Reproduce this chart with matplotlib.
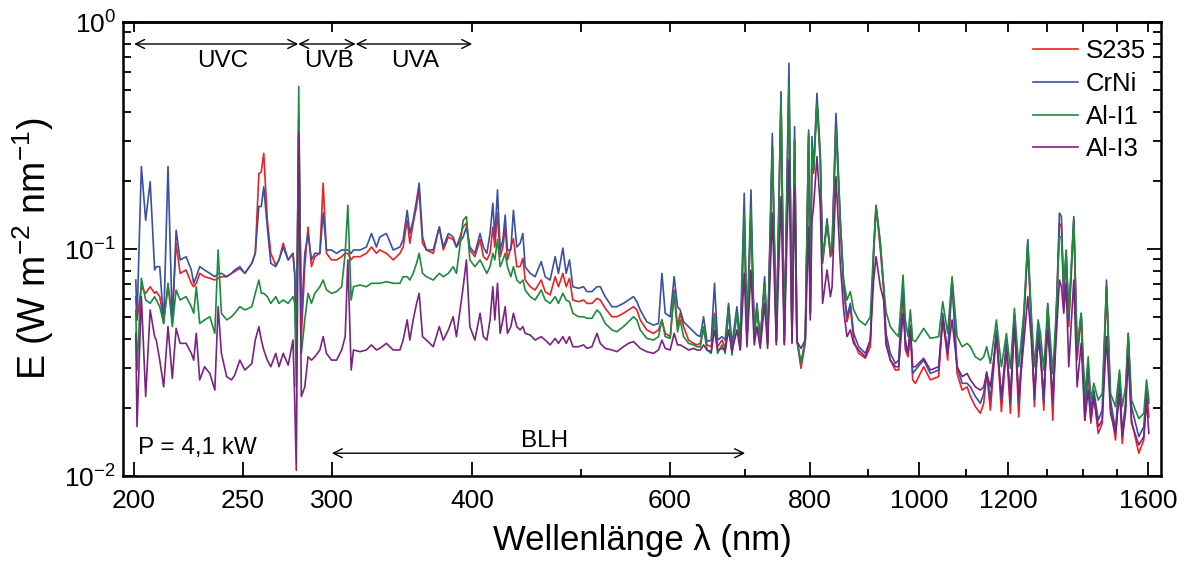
"""
Spectral irradiance of the arc for four workpiece materials (P = 4,1 kW).
"""
import matplotlib
matplotlib.use("Agg")
import matplotlib.pyplot as plt
from matplotlib.ticker import NullFormatter

plt.rcParams["font.family"] = ["Liberation Sans", "DejaVu Sans"]
plt.rcParams["mathtext.fontset"] = "custom"
plt.rcParams["mathtext.rm"] = "Liberation Sans"
plt.rcParams["mathtext.it"] = "Liberation Sans:italic"
plt.rcParams["mathtext.bf"] = "Liberation Sans:bold"

# wavelength grid (nm) shared by all four spectra
wavelength = [
    200.7, 201.2, 203.0, 204.8, 206.7, 208.6, 209.3, 210.8, 212.5, 214.4,
    216.3, 218.0, 219.8, 222.5, 224.9, 226.0, 227.2, 228.8, 231.1, 233.6,
    236.0, 237.6, 239.2, 241.8, 244.2, 245.8, 248.4, 251.0, 254.6, 256.4,
    258.3, 259.6, 260.9, 262.8, 264.7, 267.4, 269.2, 271.5, 274.3, 277.0,
    278.0, 278.9, 280.3, 281.8, 283.8, 285.7, 287.7, 289.7, 292.7, 294.7,
    296.7, 299.8, 302.9, 306.1, 308.3, 310.0, 312.1, 313.6, 317.9, 322.0,
    325.4, 328.7, 331.0, 335.5, 340.2, 344.9, 347.2, 350.1, 352.0, 354.4,
    356.9, 358.8, 361.3, 364.2, 369.3, 373.9, 377.0, 380.9, 384.7, 387.3,
    392.7, 395.3, 398.1, 402.2, 406.5, 409.3, 412.2, 414.9, 417.3, 419.0,
    421.3, 423.6, 426.0, 428.0, 430.0, 433.0, 435.3, 438.3, 441.3, 443.8,
    445.9, 450.5, 455.1, 460.8, 464.6, 469.3, 474.2, 477.4, 481.7, 485.0,
    488.3, 491.7, 497.4, 502.6, 506.1, 511.3, 516.6, 520.1, 525.4, 532.7,
    538.1, 545.4, 551.1, 556.8, 560.7, 564.5, 572.2, 580.1, 586.1, 590.2,
    594.2, 600.3, 605.2, 609.4, 612.7, 617.0, 623.3, 629.8, 634.1, 638.5,
    642.8, 647.3, 653.0, 657.4, 661.5, 667.5, 672.0, 676.6, 681.3, 688.3,
    693.0, 698.7, 702.6, 708.4, 713.2, 717.1, 722.0, 728.5, 733.0, 740.1,
    746.2, 753.4, 758.5, 765.8, 770.6, 774.7, 778.4, 784.9, 791.8, 797.3,
    800.0, 802.8, 805.5, 811.0, 816.6, 820.5, 828.0, 833.7, 836.6, 843.3,
    850.8, 856.6, 862.5, 868.5, 874.4, 883.5, 895.6, 904.8, 911.0, 915.5,
    923.6, 929.9, 934.4, 942.7, 952.5, 958.9, 967.6, 972.2, 977.6, 982.2,
    986.9, 992.4, 1009.4, 1023.3, 1040.9, 1049.6, 1060.3, 1069.9, 1081.0, 1092.2,
    1103.4, 1110.9, 1122.3, 1133.9, 1141.6, 1148.6, 1157.4, 1171.7, 1183.8, 1196.0,
    1205.8, 1215.8, 1226.6, 1239.3, 1249.6, 1258.1, 1266.7, 1276.4, 1282.5, 1291.2,
    1301.8, 1315.3, 1324.3, 1333.3, 1338.8, 1345.2, 1351.8, 1359.1, 1373.2, 1382.6,
    1394.2, 1404.6, 1414.3, 1422.0, 1430.7, 1443.7, 1455.6, 1468.4, 1480.5, 1495.8,
    1508.2, 1516.5, 1526.8, 1535.2, 1545.7, 1568.9, 1585.1, 1594.0, 1601.6,
]

# irradiance E in W m^-2 nm^-1
s235 = [
    0.0617, 0.0487, 0.0682, 0.0638, 0.0682, 0.0638, 0.0649, 0.0617, 0.0487, 0.0682,
    0.0521, 0.106, 0.0781, 0.0808, 0.0706, 0.0682, 0.0706, 0.0781, 0.0755, 0.0743,
    0.0730, 0.0743, 0.0755, 0.0755, 0.0781, 0.0795, 0.0822, 0.0781, 0.0865, 0.0957,
    0.215, 0.219, 0.264, 0.134, 0.0957, 0.0850, 0.0895, 0.106, 0.0895, 0.0957,
    0.0781, 0.0347, 0.383, 0.0411, 0.0836, 0.125, 0.0836, 0.0925, 0.0957, 0.195,
    0.0957, 0.0895, 0.0895, 0.0925, 0.0957, 0.0957, 0.0895, 0.0925, 0.0925, 0.0957,
    0.102, 0.0957, 0.0990, 0.0957, 0.0895, 0.0957, 0.102, 0.134, 0.106, 0.130,
    0.154, 0.182, 0.106, 0.0990, 0.0957, 0.125, 0.0990, 0.113, 0.110, 0.102,
    0.125, 0.130, 0.0990, 0.0925, 0.110, 0.0925, 0.0895, 0.0957, 0.125, 0.102,
    0.144, 0.0925, 0.102, 0.125, 0.0895, 0.102, 0.111, 0.0836, 0.0836, 0.0910,
    0.0730, 0.0682, 0.0660, 0.0730, 0.0649, 0.0627, 0.0755, 0.0682, 0.0781, 0.0682,
    0.0743, 0.0596, 0.0586, 0.0596, 0.0576, 0.0576, 0.0606, 0.0596, 0.0548, 0.0503,
    0.0503, 0.0521, 0.0539, 0.0557, 0.0539, 0.0487, 0.0440, 0.0425, 0.0440, 0.0487,
    0.0425, 0.0411, 0.0660, 0.0455, 0.0521, 0.0455, 0.0397, 0.0384, 0.0378, 0.0384,
    0.0440, 0.0378, 0.0371, 0.0521, 0.0371, 0.0397, 0.0365, 0.0557, 0.0359, 0.0539,
    0.0365, 0.139, 0.0397, 0.144, 0.0411, 0.0557, 0.0391, 0.0706, 0.0384, 0.282,
    0.0391, 0.453, 0.0391, 0.537, 0.0391, 0.302, 0.0397, 0.0298, 0.0384, 0.313,
    0.0521, 0.282, 0.215, 0.453, 0.247, 0.0865, 0.130, 0.0925, 0.0957, 0.383,
    0.125, 0.0682, 0.0478, 0.0557, 0.0397, 0.0347, 0.0330, 0.0371, 0.0957, 0.154,
    0.0990, 0.0660, 0.0397, 0.0324, 0.0293, 0.0293, 0.0682, 0.0359, 0.0335, 0.0440,
    0.0265, 0.0256, 0.0303, 0.0265, 0.0274, 0.0503, 0.0324, 0.0730, 0.0283, 0.0239,
    0.0247, 0.0224, 0.0202, 0.0189, 0.0209, 0.0283, 0.0195, 0.0425, 0.0192, 0.0371,
    0.0189, 0.0503, 0.0182, 0.0470, 0.102, 0.0487, 0.0202, 0.0440, 0.0347, 0.0195,
    0.0557, 0.0176, 0.0487, 0.130, 0.125, 0.0576, 0.0957, 0.0455, 0.134, 0.0324,
    0.0503, 0.0176, 0.0293, 0.0171, 0.0224, 0.0154, 0.0171, 0.0682, 0.0202, 0.0144,
    0.0274, 0.0139, 0.0202, 0.0411, 0.0176, 0.0126, 0.0144, 0.0239, 0.0182,
]

crni = [
    0.0730, 0.0487, 0.231, 0.134, 0.198, 0.0808, 0.0836, 0.0836, 0.0470, 0.231,
    0.0470, 0.121, 0.0895, 0.0925, 0.0808, 0.0706, 0.0755, 0.0836, 0.0808, 0.0781,
    0.0755, 0.0781, 0.0781, 0.0755, 0.0781, 0.0808, 0.0836, 0.0781, 0.0865, 0.0957,
    0.154, 0.154, 0.188, 0.125, 0.0865, 0.0836, 0.0895, 0.102, 0.0895, 0.0957,
    0.0781, 0.0347, 0.334, 0.0487, 0.0957, 0.117, 0.0895, 0.0957, 0.0957, 0.144,
    0.0990, 0.0990, 0.0957, 0.0990, 0.0990, 0.0990, 0.0957, 0.0990, 0.0990, 0.102,
    0.117, 0.102, 0.113, 0.117, 0.0990, 0.102, 0.110, 0.148, 0.117, 0.134,
    0.164, 0.195, 0.113, 0.0990, 0.0990, 0.125, 0.102, 0.117, 0.113, 0.102,
    0.113, 0.125, 0.102, 0.0957, 0.117, 0.102, 0.0957, 0.117, 0.159, 0.113,
    0.182, 0.0990, 0.110, 0.141, 0.0990, 0.0990, 0.148, 0.102, 0.106, 0.117,
    0.0836, 0.0781, 0.0755, 0.0880, 0.0755, 0.0730, 0.0925, 0.0781, 0.101, 0.0781,
    0.0895, 0.0682, 0.0671, 0.0682, 0.0649, 0.0649, 0.0682, 0.0682, 0.0617, 0.0557,
    0.0557, 0.0576, 0.0596, 0.0617, 0.0586, 0.0539, 0.0478, 0.0462, 0.0470, 0.0781,
    0.0521, 0.0503, 0.0755, 0.0557, 0.0539, 0.0478, 0.0455, 0.0432, 0.0418, 0.0411,
    0.0503, 0.0391, 0.0397, 0.0706, 0.0397, 0.0411, 0.0397, 0.0576, 0.0378, 0.0557,
    0.0404, 0.176, 0.0411, 0.182, 0.0418, 0.0576, 0.0397, 0.0755, 0.0397, 0.323,
    0.0397, 0.493, 0.0397, 0.658, 0.0397, 0.346, 0.0397, 0.0313, 0.0397, 0.334,
    0.0521, 0.313, 0.223, 0.485, 0.264, 0.0895, 0.136, 0.0957, 0.102, 0.396,
    0.134, 0.0706, 0.0503, 0.0576, 0.0425, 0.0371, 0.0347, 0.0397, 0.0957, 0.154,
    0.106, 0.0682, 0.0425, 0.0347, 0.0313, 0.0324, 0.0706, 0.0371, 0.0347, 0.0462,
    0.0283, 0.0293, 0.0324, 0.0283, 0.0293, 0.0521, 0.0347, 0.0730, 0.0303, 0.0256,
    0.0256, 0.0247, 0.0224, 0.0209, 0.0231, 0.0288, 0.0216, 0.0440, 0.0216, 0.0397,
    0.0209, 0.0521, 0.0209, 0.0487, 0.110, 0.0487, 0.0216, 0.0470, 0.0359, 0.0209,
    0.0576, 0.0209, 0.0487, 0.144, 0.139, 0.0617, 0.0990, 0.0487, 0.139, 0.0347,
    0.0521, 0.0195, 0.0303, 0.0195, 0.0239, 0.0176, 0.0195, 0.0730, 0.0216, 0.0159,
    0.0283, 0.0154, 0.0209, 0.0425, 0.0202, 0.0149, 0.0165, 0.0247, 0.0209,
]

al_i1 = [
    0.0539, 0.0293, 0.0743, 0.0596, 0.0576, 0.0617, 0.0596, 0.0557, 0.0470, 0.0706,
    0.0455, 0.0660, 0.0596, 0.0617, 0.0557, 0.0521, 0.0682, 0.0470, 0.0487, 0.0503,
    0.0425, 0.0990, 0.0521, 0.0487, 0.0503, 0.0521, 0.0557, 0.0539, 0.0557, 0.0638,
    0.0730, 0.0638, 0.0638, 0.0617, 0.0576, 0.0617, 0.0576, 0.0596, 0.0576, 0.0617,
    0.0576, 0.0247, 0.519, 0.0347, 0.0487, 0.0638, 0.0576, 0.0638, 0.0682, 0.0730,
    0.0660, 0.0638, 0.0649, 0.0682, 0.0957, 0.156, 0.0596, 0.0682, 0.0694, 0.0682,
    0.0706, 0.0706, 0.0706, 0.0718, 0.0706, 0.0706, 0.0755, 0.0755, 0.0730, 0.0781,
    0.0865, 0.0957, 0.0781, 0.0755, 0.0730, 0.0781, 0.0755, 0.0781, 0.0836, 0.0781,
    0.134, 0.139, 0.0895, 0.0836, 0.0895, 0.0836, 0.0781, 0.0836, 0.0957, 0.0895,
    0.110, 0.0836, 0.0895, 0.0957, 0.0836, 0.0755, 0.0836, 0.0730, 0.0706, 0.0730,
    0.0660, 0.0617, 0.0596, 0.0660, 0.0596, 0.0576, 0.0617, 0.0576, 0.0638, 0.0596,
    0.0586, 0.0521, 0.0503, 0.0503, 0.0495, 0.0495, 0.0539, 0.0521, 0.0470, 0.0440,
    0.0432, 0.0455, 0.0478, 0.0503, 0.0487, 0.0440, 0.0404, 0.0397, 0.0411, 0.0487,
    0.0411, 0.0404, 0.0638, 0.0432, 0.0487, 0.0411, 0.0384, 0.0378, 0.0371, 0.0371,
    0.0455, 0.0359, 0.0347, 0.0503, 0.0347, 0.0378, 0.0347, 0.0539, 0.0341, 0.0521,
    0.0359, 0.144, 0.0397, 0.148, 0.0404, 0.0557, 0.0384, 0.0706, 0.0378, 0.282,
    0.0391, 0.453, 0.0384, 0.537, 0.0391, 0.302, 0.0397, 0.0313, 0.0397, 0.323,
    0.0521, 0.282, 0.223, 0.438, 0.247, 0.0895, 0.130, 0.0990, 0.102, 0.334,
    0.134, 0.0730, 0.0596, 0.0649, 0.0539, 0.0487, 0.0462, 0.0503, 0.102, 0.156,
    0.106, 0.0682, 0.0530, 0.0455, 0.0425, 0.0411, 0.0768, 0.0487, 0.0411, 0.0539,
    0.0397, 0.0391, 0.0447, 0.0404, 0.0411, 0.0586, 0.0425, 0.0755, 0.0411, 0.0371,
    0.0384, 0.0371, 0.0335, 0.0324, 0.0335, 0.0371, 0.0313, 0.0487, 0.0303, 0.0425,
    0.0298, 0.0548, 0.0303, 0.0521, 0.108, 0.0539, 0.0303, 0.0487, 0.0425, 0.0293,
    0.0567, 0.0283, 0.0521, 0.113, 0.113, 0.0706, 0.0957, 0.0521, 0.134, 0.0371,
    0.0521, 0.0224, 0.0335, 0.0216, 0.0256, 0.0216, 0.0231, 0.0682, 0.0231, 0.0202,
    0.0293, 0.0202, 0.0247, 0.0425, 0.0216, 0.0179, 0.0189, 0.0265, 0.0216,
]

al_i3 = [
    0.0425, 0.0165, 0.0617, 0.0224, 0.0539, 0.0411, 0.0397, 0.0324, 0.0247, 0.0455,
    0.0269, 0.0447, 0.0384, 0.0384, 0.0347, 0.0324, 0.0425, 0.0265, 0.0303, 0.0283,
    0.0239, 0.0557, 0.0347, 0.0274, 0.0265, 0.0278, 0.0324, 0.0293, 0.0313, 0.0397,
    0.0455, 0.0397, 0.0359, 0.0324, 0.0303, 0.0347, 0.0303, 0.0347, 0.0308, 0.0397,
    0.0216, 0.0106, 0.323, 0.0224, 0.0247, 0.0335, 0.0324, 0.0335, 0.0359, 0.0411,
    0.0347, 0.0324, 0.0324, 0.0359, 0.0411, 0.0895, 0.0293, 0.0359, 0.0353, 0.0359,
    0.0378, 0.0359, 0.0365, 0.0384, 0.0359, 0.0359, 0.0397, 0.0487, 0.0397, 0.0487,
    0.0576, 0.0638, 0.0411, 0.0397, 0.0371, 0.0455, 0.0397, 0.0440, 0.0503, 0.0411,
    0.0682, 0.0895, 0.0455, 0.0397, 0.0521, 0.0411, 0.0397, 0.0487, 0.0682, 0.0487,
    0.0706, 0.0425, 0.0487, 0.0557, 0.0425, 0.0455, 0.0521, 0.0455, 0.0440, 0.0455,
    0.0425, 0.0418, 0.0397, 0.0411, 0.0397, 0.0378, 0.0404, 0.0384, 0.0411, 0.0384,
    0.0411, 0.0371, 0.0371, 0.0378, 0.0365, 0.0371, 0.0425, 0.0384, 0.0365, 0.0359,
    0.0353, 0.0371, 0.0384, 0.0391, 0.0378, 0.0365, 0.0353, 0.0347, 0.0359, 0.0397,
    0.0365, 0.0359, 0.0425, 0.0378, 0.0378, 0.0371, 0.0359, 0.0365, 0.0359, 0.0359,
    0.0378, 0.0359, 0.0353, 0.0440, 0.0359, 0.0365, 0.0359, 0.0440, 0.0353, 0.0440,
    0.0359, 0.0781, 0.0371, 0.0808, 0.0378, 0.0455, 0.0365, 0.0576, 0.0365, 0.144,
    0.0378, 0.170, 0.0378, 0.247, 0.0384, 0.188, 0.0391, 0.0365, 0.0397, 0.125,
    0.0487, 0.134, 0.154, 0.255, 0.154, 0.0576, 0.0808, 0.0617, 0.0682, 0.208,
    0.0865, 0.0539, 0.0411, 0.0440, 0.0384, 0.0359, 0.0335, 0.0397, 0.0730, 0.0925,
    0.0682, 0.0596, 0.0378, 0.0324, 0.0303, 0.0303, 0.0521, 0.0397, 0.0347, 0.0440,
    0.0303, 0.0303, 0.0330, 0.0293, 0.0303, 0.0487, 0.0347, 0.0487, 0.0303, 0.0274,
    0.0283, 0.0265, 0.0247, 0.0239, 0.0247, 0.0283, 0.0247, 0.0411, 0.0224, 0.0359,
    0.0224, 0.0455, 0.0224, 0.0384, 0.0617, 0.0411, 0.0231, 0.0397, 0.0335, 0.0231,
    0.0440, 0.0216, 0.0397, 0.0730, 0.0682, 0.0521, 0.0706, 0.0303, 0.0730, 0.0247,
    0.0384, 0.0176, 0.0239, 0.0176, 0.0224, 0.0165, 0.0176, 0.0411, 0.0189, 0.0154,
    0.0231, 0.0149, 0.0189, 0.0335, 0.0171, 0.0137, 0.0149, 0.0216, 0.0154,
]

series = [
    ("S235", s235, "#ee1f25"),
    ("CrNi", crni, "#3a50a2"),
    ("Al-I1", al_i1, "#1e8a3c"),
    ("Al-I3", al_i3, "#7a2382"),
]

major_ticks = [200, 250, 300, 400, 600, 800, 1000, 1200, 1600]
minor_ticks = [500, 700, 900, 1100, 1300, 1400, 1500]
top_ticks = list(range(200, 1700, 100))

# UV bands and blue light hazard range (nm)
bands = [("UVC", 200, 280, 240), ("UVB", 280, 315, 298), ("UVA", 315, 400, 356)]
blh_range = (300, 700)

TEXT_SIZE = 17.5


def span_arrow(ax, x0, x1, y):
    ax.annotate(
        "", xy=(x1, y), xytext=(x0, y),
        arrowprops=dict(arrowstyle="<->", color="black", lw=1.0,
                        shrinkA=0, shrinkB=0, mutation_scale=16),
    )


fig = plt.figure(figsize=(11.87, 5.67), dpi=100)
ax = fig.add_axes([123 / 1187, 91 / 567, 1038 / 1187, 454 / 567])

for name, values, color in series:
    ax.plot(wavelength, values, color=color, lw=1.2, label=name)

ax.set_xscale("log")
ax.set_yscale("log")
ax.set_xlim(195.5, 1642)
ax.set_ylim(0.01, 1)

ax.set_xticks(major_ticks, labels=[str(t) for t in major_ticks])
ax.set_xticks(minor_ticks, minor=True)
ax.xaxis.set_minor_formatter(NullFormatter())
ax.tick_params(axis="x", which="major", direction="in", length=10, width=1.3,
               labelsize=19, pad=9, top=False)
ax.tick_params(axis="x", which="minor", direction="in", length=5, width=1.3, top=False)
ax.tick_params(axis="y", which="major", direction="in", length=10, width=1.3,
               labelsize=19, pad=5, left=True, right=True)
ax.tick_params(axis="y", which="minor", direction="in", length=5.5, width=1.3,
               left=True, right=True)

top = ax.secondary_xaxis("top")
top.set_xticks(top_ticks, labels=[])
top.set_xticks([], minor=True)
top.xaxis.set_minor_formatter(NullFormatter())
top.tick_params(direction="in", length=7, width=1.3)
top.spines["top"].set_linewidth(1.8)

for side in ax.spines.values():
    side.set_linewidth(1.8)

ax.set_xlabel("Wellenlänge λ (nm)", fontsize=25, labelpad=8)
ax.set_ylabel(r"E (W m$^{-2}$ nm$^{-1}$)", fontsize=27, labelpad=6)

for label, lo, hi, mid in bands:
    span_arrow(ax, lo, hi, 0.80)
    ax.text(mid, 0.675, label, fontsize=TEXT_SIZE, ha="center", va="center")

span_arrow(ax, blh_range[0], blh_range[1], 0.0126)
ax.text(464, 0.0142, "BLH", fontsize=TEXT_SIZE, ha="center", va="center")

ax.text(0.0145, 0.061, "P = 4,1 kW", fontsize=TEXT_SIZE, ha="left", va="center",
        transform=ax.transAxes)

ax.legend(loc="upper left", bbox_to_anchor=(0.8767, 0.962), frameon=False,
          fontsize=18.5, handlelength=1.75, handletextpad=0.3,
          labelspacing=0.34, borderpad=0, borderaxespad=0)

fig.savefig("out.png", dpi=100)
plt.close(fig)
